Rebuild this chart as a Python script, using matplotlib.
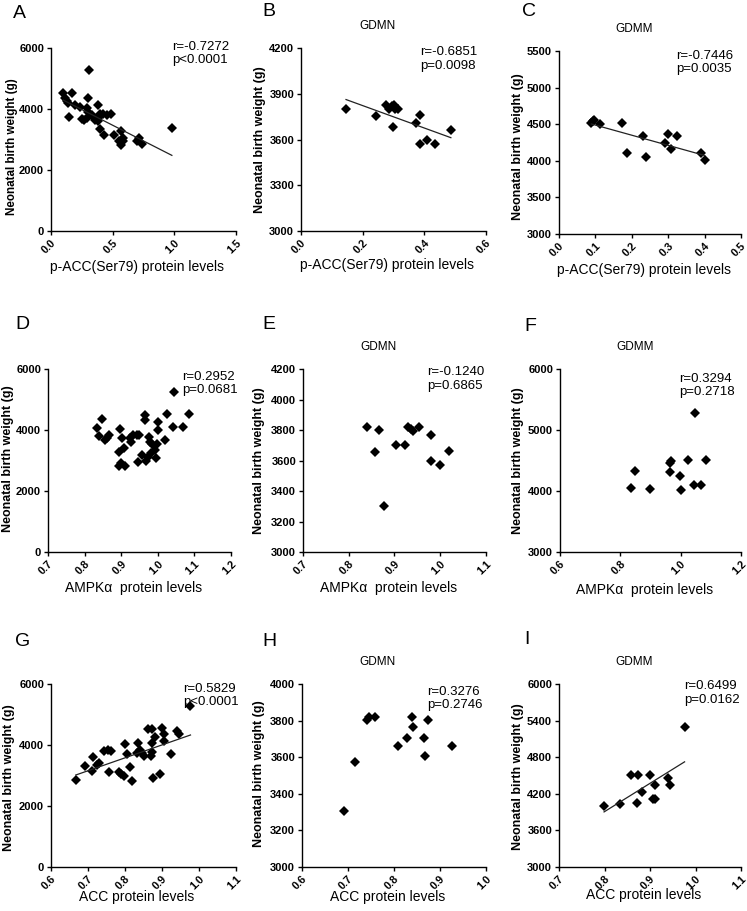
import matplotlib
matplotlib.use("Agg")
import matplotlib.pyplot as plt
import numpy as np

plt.rcParams['font.family'] = ['Liberation Sans', 'DejaVu Sans']

# ---------------- data ----------------
A_x = [0.10, 0.173, 0.113, 0.127, 0.14, 0.195, 0.235, 0.303, 0.31, 0.29, 0.384, 0.146, 0.30, 0.424,
       0.49, 0.25, 0.27, 0.29, 0.33, 0.37, 0.38, 0.40, 0.40, 0.43, 0.45, 0.51, 0.55, 0.57, 0.57, 0.58,
       0.58, 0.70, 0.71, 0.74, 0.98, 0.36, 0.40]
A_y = [4534, 4534, 4350, 4262, 4187, 4131, 4075, 4370, 5279, 4020, 4131, 3728, 3912, 3836,
       3836, 3680, 3650, 3700, 3800, 3700, 3600, 3330, 3760, 3150, 3800, 3150, 2950, 3280, 2820, 2950,
       3050, 2960, 3060, 2850, 3380, 3650, 3850]
A_fit_x = [0.10, 0.98]
A_fit_y = [4290, 2480]

B_x = [0.146, 0.242, 0.277, 0.286, 0.294, 0.301, 0.306, 0.316, 0.297, 0.374, 0.385, 0.385, 0.41, 0.435, 0.486]
B_y = [3803, 3753, 3825, 3803, 3818, 3825, 3803, 3803, 3683, 3705, 3759, 3570, 3595, 3570, 3661]
B_fit_x = [0.146, 0.486]
B_fit_y = [3862, 3612]

C_x = [0.089, 0.093, 0.096, 0.112, 0.173, 0.188, 0.232, 0.240, 0.290, 0.299, 0.309, 0.323, 0.390, 0.400]
C_y = [4512, 4540, 4557, 4503, 4512, 4102, 4339, 4056, 4239, 4366, 4161, 4339, 4100, 4010]
C_fit_x = [0.089, 0.40]
C_fit_y = [4503, 4073]

D_x = [0.835, 0.839, 0.848, 0.856, 0.862, 0.866, 0.896, 0.894, 0.894, 0.900, 0.907, 0.910, 0.903,
       0.924, 0.928, 0.933, 0.942, 0.949, 0.946, 0.957, 0.966, 0.966, 0.968, 0.973, 0.977, 0.980,
       0.984, 0.982, 0.991, 0.995, 0.997, 1.000, 1.000, 1.024, 1.019, 1.042, 1.045, 1.068, 1.086]
D_y = [4080, 3818, 4364, 3676, 3753, 3840, 4036, 3295, 2804, 2913, 3404, 2836, 3731,
       3731, 3622, 3840, 3840, 3840, 2945, 3164, 4495, 4331, 3000, 3131, 3764, 3622,
       3545, 3240, 3349, 3076, 3545, 4004, 4255, 4516, 3676, 4113, 5258, 4113, 4516]

E_x = [0.840, 0.858, 0.867, 0.876, 0.904, 0.924, 0.929, 0.935, 0.940, 0.953, 0.980, 0.980, 0.999, 1.020]
E_y = [3818, 3659, 3801, 3300, 3703, 3703, 3818, 3805, 3796, 3818, 3764, 3600, 3573, 3660]

F_x = [0.834, 0.849, 0.897, 0.964, 0.965, 0.968, 0.999, 1.002, 1.024, 1.043, 1.067, 1.084, 1.046]
F_y = [4047, 4331, 4036, 4309, 4456, 4500, 4243, 4009, 4505, 4102, 4096, 4505, 5280]

G_x = [0.667, 0.692, 0.714, 0.710, 0.723, 0.730, 0.744, 0.755, 0.761, 0.758, 0.783, 0.790, 0.796,
       0.800, 0.805, 0.813, 0.820, 0.832, 0.836, 0.840, 0.846, 0.850, 0.863, 0.874, 0.872, 0.870,
       0.874, 0.881, 0.877, 0.894, 0.901, 0.906, 0.906, 0.924, 0.940, 0.945, 0.977]
G_y = [2852, 3322, 3596, 3158, 3344, 3399, 3814, 3840, 3814, 3125, 3100, 3040, 2990,
       4033, 3695, 3289, 2820, 3728, 4056, 3820, 3728, 3640, 4515, 4515, 4056, 3640,
       3770, 4272, 2930, 3040, 4547, 4362, 4142, 3695, 4470, 4360, 5288]
G_fit_x = [0.667, 0.977]
G_fit_y = [3016, 4328]

H_x = [0.691, 0.715, 0.741, 0.746, 0.759, 0.808, 0.829, 0.840, 0.842, 0.865, 0.868, 0.873, 0.926]
H_y = [3305, 3575, 3803, 3818, 3821, 3662, 3704, 3821, 3763, 3704, 3606, 3805, 3662]

I_x = [0.799, 0.835, 0.859, 0.873, 0.871, 0.882, 0.901, 0.906, 0.910, 0.910, 0.939, 0.945, 0.976]
I_y = [4002, 4040, 4516, 4516, 4057, 4232, 4516, 4111, 4111, 4341, 4462, 4341, 5289]
I_fit_x = [0.799, 0.976]
I_fit_y = [3903, 4724]

panel_letters = ["A", "B", "C", "D", "E", "F", "G", "H", "I"]
panel_titles = ["", "GDMN", "GDMM", "", "GDMN", "GDMM", "", "GDMN", "GDMM"]
x_labels = ["p-ACC(Ser79) protein levels"] * 3 + ["AMPK\u03b1  protein levels"] * 3 + ["ACC protein levels"] * 3
y_label = "Neonatal birth weight (g)"
stats_text = ["r=-0.7272\np<0.0001", "r=-0.6851\np=0.0098", "r=-0.7446\np=0.0035",
              "r=0.2952\np=0.0681", "r=-0.1240\np=0.6865", "r=0.3294\np=0.2718",
              "r=0.5829\np<0.0001", "r=0.3276\np=0.2746", "r=0.6499\np=0.0162"]
x_ticks = [[0.0, 0.5, 1.0, 1.5], [0.0, 0.2, 0.4, 0.6], [0.0, 0.1, 0.2, 0.3, 0.4, 0.5],
           [0.7, 0.8, 0.9, 1.0, 1.1, 1.2], [0.7, 0.8, 0.9, 1.0, 1.1], [0.6, 0.8, 1.0, 1.2],
           [0.6, 0.7, 0.8, 0.9, 1.0, 1.1], [0.6, 0.7, 0.8, 0.9, 1.0], [0.7, 0.8, 0.9, 1.0, 1.1]]
y_ticks = [[0, 2000, 4000, 6000], [3000, 3300, 3600, 3900, 4200], [3000, 3500, 4000, 4500, 5000, 5500],
           [0, 2000, 4000, 6000], [3000, 3200, 3400, 3600, 3800, 4000, 4200], [3000, 4000, 5000, 6000],
           [0, 2000, 4000, 6000], [3000, 3200, 3400, 3600, 3800, 4000], [3000, 3600, 4200, 4800, 5400, 6000]]

xs = [A_x, B_x, C_x, D_x, E_x, F_x, G_x, H_x, I_x]
ys = [A_y, B_y, C_y, D_y, E_y, F_y, G_y, H_y, I_y]
fits = [(A_fit_x, A_fit_y), (B_fit_x, B_fit_y), (C_fit_x, C_fit_y), None, None, None,
        (G_fit_x, G_fit_y), None, (I_fit_x, I_fit_y)]

# ---------------- layout (pixels) ----------------
W, H = 747, 911
boxes = [(51, 236, 48, 231), (301, 486, 48, 231), (559, 741, 51, 234),
         (48, 231, 369, 552), (303, 486, 369, 552), (560, 741, 369, 552),
         (51, 236, 684, 867), (302, 486, 684, 867), (559, 741, 684, 867)]
letter_pos = [(13, 5), (262, 3), (522, 3), (15, 316), (262, 316), (524, 318), (15, 633), (262, 633), (524, 631)]
stat_pos = [(0.654, 1.04), (0.643, 1.01), (0.645, 1.005), (0.732, 0.99), (0.678, 1.015),
            (0.656, 0.978), (0.714, 1.005), (0.679, 0.99), (0.685, 1.02)]
ylab_pos = [(-0.211, 0.46), (-0.222, 0.5), (-0.224, 0.475), (-0.219, 0.51), (-0.24, 0.5),
            (-0.23, 0.5), (-0.227, 0.49), (-0.234, 0.51), (-0.223, 0.495)]
xlab_y = [-0.197, -0.186, -0.197, -0.197, -0.197, -0.208, -0.162, -0.165, -0.155]
ylab_size = [8.4, 9, 9, 9, 9, 9, 9, 9, 9]

fig = plt.figure(figsize=(W / 100, H / 100), dpi=100)

for i in range(9):
    l, r, t, b = boxes[i]
    ax = fig.add_axes([l / W, 1 - b / H, (r - l) / W, (b - t) / H])
    ax.plot(xs[i], ys[i], linestyle='none', marker='D', markersize=5.2,
            color='black', markeredgewidth=0)
    if fits[i] is not None:
        ax.plot(fits[i][0], fits[i][1], color='#222222', lw=0.9)
    xt = x_ticks[i]
    yt = y_ticks[i]
    ax.set_xlim(xt[0], xt[-1])
    ax.set_ylim(yt[0], yt[-1])
    ax.set_xticks(xt)
    ax.set_xticklabels([f"{v:.1f}" for v in xt], rotation=45, ha='right',
                       rotation_mode='anchor', fontweight='bold', fontsize=7.8)
    ax.set_yticks(yt)
    ax.set_yticklabels([f"{v:d}" for v in yt], fontweight='bold', fontsize=8)
    for s in ['top', 'right']:
        ax.spines[s].set_visible(False)
    for s in ['left', 'bottom']:
        ax.spines[s].set_linewidth(1.0)
    ax.tick_params(direction='out', length=3, width=1.0, pad=2)
    ax.set_ylabel(y_label, fontweight='bold', fontsize=ylab_size[i])
    ax.yaxis.set_label_coords(*ylab_pos[i])
    ax.set_xlabel(x_labels[i], fontsize=10)
    ax.xaxis.set_label_coords(0.465, xlab_y[i])
    ax.xaxis.label.set_va('center')
    ax.yaxis.label.set_va('center')
    if panel_titles[i]:
        ax.text(0.413, 1.12, panel_titles[i], transform=ax.transAxes, ha='center',
                va='center', fontsize=8.5)
    ax.text(stat_pos[i][0], stat_pos[i][1], stats_text[i], transform=ax.transAxes,
            ha='left', va='top', fontsize=9.5, linespacing=1.15)
    lx, ly = letter_pos[i]
    fig.text(lx / W, 1 - ly / H, panel_letters[i], ha='left', va='top', fontsize=14)

fig.savefig("out.png", dpi=100)
